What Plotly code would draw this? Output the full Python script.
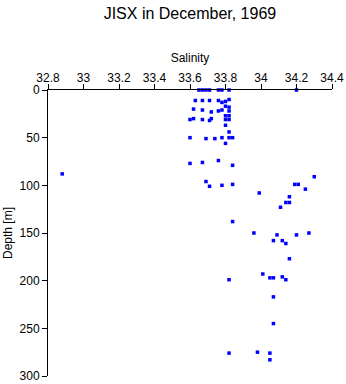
import plotly.graph_objects as go

salinity = [33.65, 33.67, 33.69, 33.71, 33.76, 33.78, 33.82, 34.20,
            33.63, 33.67, 33.71, 33.76, 33.78, 33.80, 33.82,
            33.80, 33.82,
            33.62, 33.67, 33.72, 33.76, 33.78, 33.82,
            33.80, 33.82,
            33.60, 33.62, 33.67, 33.71, 33.72, 33.80, 33.82,
            33.80, 33.82,
            33.60, 33.69, 33.74, 33.78, 33.82, 33.84,
            33.80, 33.76,
            33.60, 33.67, 33.84,
            32.88,
            33.69, 33.71, 33.78, 33.84,
            34.30, 34.19, 34.21, 34.25,
            33.99, 34.16, 34.14, 34.16, 34.11,
            33.84,
            33.96, 34.09, 34.20, 34.27,
            34.07, 34.12, 34.14, 34.16,
            34.01, 34.05, 34.07, 34.12, 34.14, 33.82,
            34.07, 34.07,
            33.82, 33.98, 34.05, 34.05]
depth = [0, 0, 0, 0, 0, 0, 0, 0,
         11, 11, 11, 11, 13, 12, 10,
         17, 18,
         20, 21, 23, 22, 21, 22,
         27, 27,
         31, 30, 31, 32, 30, 31, 31,
         37, 44,
         50, 51, 51, 50, 50, 50,
         56, 74,
         77, 76, 79,
         88,
         96, 101, 100, 99,
         91, 99, 99, 104,
         108, 112, 118, 118, 123,
         138,
         150, 152, 152, 150,
         158, 158, 161, 177,
         193, 197, 197, 196, 199, 199,
         217, 245,
         276, 275, 276, 283]

x_ticks = [32.8, 33, 33.2, 33.4, 33.6, 33.8, 34, 34.2, 34.4]
x_ticktext = ["32.8", "33", "33.2", "33.4", "33.6", "33.8", "34", "34.2", "34.4"]
y_ticks = [0, 50, 100, 150, 200, 250, 300]

FONT = "Liberation Sans, Arial, Helvetica, sans-serif"

fig = go.Figure()
fig.add_trace(go.Scatter(
    x=salinity, y=depth, mode="markers",
    marker=dict(symbol="square", size=3.5, color="#0000ff", line=dict(width=0)),
    showlegend=False, hoverinfo="skip", cliponaxis=False))

fig.update_layout(
    width=346, height=384,
    margin=dict(l=48, r=14, t=90, b=8),
    paper_bgcolor="white", plot_bgcolor="white",
    font=dict(family=FONT, size=12, color="black"),
    title=dict(text="JISX in December, 1969", x=0.549, xanchor="center",
               y=1 - 13 / 384, yanchor="middle", yref="container",
               font=dict(family=FONT, size=16, color="black")),
    xaxis=dict(side="top", range=[32.8, 34.4], tickvals=x_ticks, ticktext=x_ticktext,
               automargin=False,
               showline=True, linecolor="black", linewidth=1,
               ticks="outside", ticklen=5, tickcolor="black", tickwidth=1,
               showgrid=False, zeroline=False,
               tickfont=dict(size=12), ticklabelstandoff=-3,
               title=dict(text="Salinity", font=dict(size=12), standoff=6)),
    yaxis=dict(range=[300, 0], tickvals=y_ticks,
               automargin=False,
               showline=True, linecolor="black", linewidth=1,
               ticks="outside", ticklen=5, tickcolor="black", tickwidth=1,
               showgrid=False, zeroline=False,
               tickfont=dict(size=12),
               title=dict(text="Depth [m]", font=dict(size=12), standoff=4)),
)

fig.write_html("out.html")
